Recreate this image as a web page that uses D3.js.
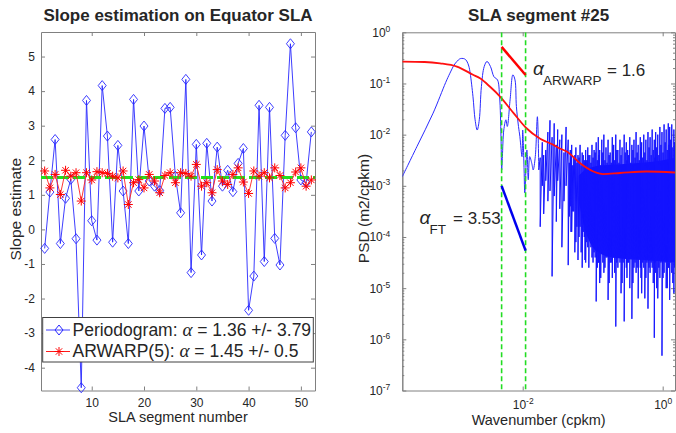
<!DOCTYPE html>
<html>
<head>
<meta charset="utf-8">
<script src="https://cdnjs.cloudflare.com/ajax/libs/d3/7.8.5/d3.min.js"></script>
<style>
body { margin:0; background:#fff; }
text { font-family: "Liberation Sans", Arial, Helvetica, sans-serif; fill:#262626; }
</style>
</head>
<body>
<svg id="viewer"></svg>
<script>
// left panel: slope estimates per SLA segment
var segments = d3.range(1, 53);
var periodogramSlope = [-0.55, 1.08, 2.6, -0.41, 0.9, 1.45, -0.27, -4.58, 3.73, 0.25,
  -0.31, 4.16, 2.7, -0.37, 2.43, 1.11, -0.41, 3.76, 1.11, 2.99,
  1.4, 1.25, 1.12, 3.5, 3.53, 1.54, 0.48, 4.34, -1.25, 2.46,
  -0.74, 2.49, 0.82, 2.38, 1.25, 1.71, 1.09, 1.91, 2.34, -2.34,
  -1.35, 3.59, -0.93, 3.53, -0.26, -1.03, 2.72, 5.37, 2.94, 1.43,
  1.35, 2.82];
var arwarpSlope = [1.69, 1.2, 1.59, 1.01, 1.71, 1.54, 1.64, 0.82, 1.64, 1.43,
  1.67, 1.64, 1.62, 1.54, 1.49, 1.69, 0.72, 1.35, 1.44, 1.2,
  1.59, 1.4, 1.06, 1.56, 1.64, 1.35, 1.64, 1.62, 1.54, 1.88,
  1.25, 1.35, 1.06, 1.73, 1.4, 1.3, 1.59, 1.78, 1.37, 1.04,
  1.69, 1.54, 1.64, 1.49, 1.78, 1.56, 1.2, 1.35, 1.66, 1.78,
  1.25, 1.43];
var trueSlope = 1.5;
var legendLabels = [
  ['Periodogram: ', '1.36 +/- 3.79'],
  ['ARWARP(5): ', '1.45 +/- 0.5']
];
var segTicks = [10, 20, 30, 40, 50];
var slopeTicks = [-4, -3, -2, -1, 0, 1, 2, 3, 4, 5];

// right panel: spectrum of segment #25, values as [log10 k, log10 psd]
var pgSmooth = [[-3.72,-2.82],[-3.51,-2.23],[-3.28,-1.58],[-3.10,-0.98],[-3.04,-0.80],
  [-2.98,-0.64],[-2.94,-0.57],[-2.90,-0.52],[-2.87,-0.51],[-2.83,-0.52],[-2.80,-0.56],
  [-2.77,-0.66],[-2.75,-0.80],[-2.71,-1.26],[-2.68,-1.71],[-2.65,-1.91],[-2.62,-1.71],
  [-2.59,-1.06],[-2.55,-0.67],[-2.51,-0.57],[-2.46,-0.67],[-2.41,-0.87],[-2.36,-0.93],
  [-2.33,-1.26],[-2.31,-2.04],[-2.30,-2.69],[-2.29,-2.43],[-2.27,-1.91],[-2.24,-1.71],
  [-2.22,-1.84],[-2.18,-1.32],[-2.14,-0.83],[-2.11,-0.93],[-2.09,-1.45],[-2.06,-1.84],
  [-2.04,-2.04],[-2.01,-2.43],[-2.00,-1.91],[-1.98,-2.69],[-1.97,-3.14],[-1.94,-2.30],
  [-1.92,-2.88],[-1.90,-2.43],[-1.87,-2.56],[-1.85,-2.69],[-1.82,-2.43],[-1.79,-1.65],
  [-1.77,-2.69]];
// noisy part: [log10 k, upper spike, lower spike]
var pgNoise = [[-1.75,-2.45,-3.80],[-1.72,-2.15,-3.00],[-1.70,-2.40,-3.55],[-1.67,-2.30,-2.90],
  [-1.64,-1.95,-3.30],[-1.61,-1.72,-3.10],[-1.58,-2.05,-4.77],[-1.55,-1.78,-3.20],
  [-1.52,-2.20,-3.70],[-1.50,-1.90,-2.90],[-1.47,-2.10,-3.45],[-1.44,-2.00,-4.20],
  [-1.41,-2.35,-3.30],[-1.38,-1.85,-3.00],[-1.35,-2.10,-4.55],[-1.32,-2.30,-3.40],
  [-1.30,-2.20,-3.90],[-1.27,-2.45,-3.50],[-1.24,-2.25,-4.10],[-1.21,-2.40,-4.45],
  [-1.18,-2.20,-3.80],[-1.15,-2.35,-4.60],[-1.12,-2.50,-4.00],[-1.10,-2.30,-4.50],
  [-1.07,-2.25,-4.20],[-1.04,-2.40,-3.90],[-1.01,-2.20,-4.40],[-0.98,-2.30,-4.30],
  [-0.95,-2.15,-5.26],[-0.92,-2.05,-4.50],[-0.90,-2.30,-4.90],[-0.87,-2.10,-4.30],
  [-0.84,-2.00,-4.70],[-0.81,-2.25,-4.40],[-0.78,-2.10,-5.23],[-0.75,-2.35,-4.50],
  [-0.72,-2.05,-4.80],[-0.70,-2.20,-4.40],[-0.67,-2.00,-5.75],[-0.64,-2.30,-4.60],
  [-0.61,-2.10,-4.50],[-0.58,-2.25,-4.90],[-0.55,-2.00,-5.65],[-0.52,-2.15,-4.60],
  [-0.50,-2.30,-4.50],[-0.47,-2.05,-5.00],[-0.44,-2.20,-5.60],[-0.41,-2.10,-4.60],
  [-0.38,-1.95,-4.70],[-0.35,-2.20,-5.20],[-0.32,-2.05,-4.60],[-0.30,-2.15,-5.10],
  [-0.27,-2.00,-4.60],[-0.24,-2.10,-4.80],[-0.21,-1.95,-5.40],[-0.18,-2.05,-4.70],
  [-0.15,-1.90,-4.60],[-0.12,-2.10,-5.97],[-0.10,-1.95,-4.70],[-0.07,-2.00,-5.20],
  [-0.04,-1.85,-4.80],[-0.01,-1.95,-6.32],[0.02,-1.80,-4.70],[0.05,-1.90,-5.00],
  [0.08,-1.78,-4.60],[0.10,-1.85,-5.23],[0.13,-1.80,-4.70],[0.16,-1.90,-5.10]];
// in-between periodogram points of the dense high-wavenumber band
var pgNoiseDense = [[-1.335,-2.55,-3.6],[-1.31,-2.45,-3.9],[-1.285,-2.60,-3.5],[-1.255,-2.40,-4.3],
  [-1.225,-2.55,-3.8],[-1.195,-2.45,-4.0],[-1.165,-2.60,-4.3],[-1.135,-2.40,-3.9],
  [-1.11,-2.55,-4.45],[-1.085,-2.50,-4.1],[-1.055,-2.40,-4.6],[-1.025,-2.55,-4.2],
  [-0.995,-2.45,-4.5],[-0.965,-2.35,-4.4],[-0.935,-2.50,-4.6],[-0.91,-2.40,-4.5],
  [-0.885,-2.60,-4.8],[-0.855,-2.35,-4.5],[-0.825,-2.50,-4.6],[-0.795,-2.55,-4.4],
  [-0.765,-2.40,-4.9],[-0.735,-2.55,-4.5],[-0.71,-2.35,-4.4],[-0.685,-2.50,-4.7],
  [-0.655,-2.30,-4.5],[-0.625,-2.55,-4.4],[-0.595,-2.40,-5.1],[-0.565,-2.60,-4.5],
  [-0.535,-2.35,-4.4],[-0.51,-2.50,-4.8],[-0.485,-2.40,-4.5],[-0.455,-2.55,-4.4],
  [-0.425,-2.30,-4.9],[-0.395,-2.45,-4.5],[-0.365,-2.35,-4.6],[-0.335,-2.50,-4.4],
  [-0.31,-2.25,-4.8],[-0.285,-2.45,-4.5],[-0.255,-2.35,-5.2],[-0.225,-2.50,-4.5],
  [-0.195,-2.25,-4.6],[-0.165,-2.40,-4.5],[-0.135,-2.30,-4.9],[-0.11,-2.45,-4.5],
  [-0.085,-2.25,-5.0],[-0.055,-2.40,-4.6],[-0.025,-2.20,-4.5],[0.005,-2.35,-4.8],
  [0.035,-2.15,-4.5],[0.065,-2.30,-5.0],[0.09,-2.20,-4.6],[0.115,-2.10,-4.5],
  [0.145,-2.25,-4.9],[0.17,-2.15,-4.6]];
// band where the periodogram points merge into solid colour: [log10 k, top, bottom]
var pgCore = [[-1.20,-2.80,-3.30],[-1.10,-2.68,-3.90],[-1.00,-2.63,-4.20],[-0.85,-2.60,-4.35],
  [-0.60,-2.58,-4.42],[-0.30,-2.55,-4.45],[0.00,-2.50,-4.48],[0.18,-2.45,-4.50]];
var arModel = [[-3.72,-0.574],[-3.40,-0.58],[-3.18,-0.606],[-2.94,-0.67],[-2.71,-0.83],
  [-2.61,-0.90],[-2.47,-1.06],[-2.32,-1.26],[-2.13,-1.58],[-1.95,-1.87],[-1.75,-2.08],
  [-1.56,-2.20],[-1.47,-2.27],[-1.37,-2.33],[-1.18,-2.56],[-0.99,-2.72],[-0.85,-2.77],
  [-0.61,-2.75],[-0.23,-2.72],[0.18,-2.74]];
var fitRange = [0.005, 0.011];
var fitArwarp = [0.52, 0.146];
var fitFT = [1e-3, 5.4e-5];
var alphaArwarp = '1.6';
var alphaFT = '3.53';

var W = 676, H = 433;
var axisGrey = '#808080';
var viewer = d3.select('#viewer').attr('width', W).attr('height', H);

function styleAxis(g){
  g.selectAll('.domain').attr('stroke', axisGrey);
  g.selectAll('.tick line').attr('stroke', axisGrey);
  g.selectAll('text').attr('font-family', '"Liberation Sans", Arial, sans-serif')
    .attr('font-size', 12).attr('fill', '#262626');
}

// ---------- left panel ----------
var L = {x0:41, x1:315, y0:32, y1:390.5};
var xs = d3.scaleLinear().domain([0.3, 52.7]).range([L.x0, L.x1]);
var ys = d3.scaleLinear().domain([-4.66, 5.71]).range([L.y1, L.y0]);

var left = viewer.append('g');
left.append('rect').attr('x', L.x0).attr('y', L.y0)
  .attr('width', L.x1-L.x0).attr('height', L.y1-L.y0).attr('fill', '#fff');

left.append('g').attr('transform', 'translate(0,'+L.y1+')')
  .call(d3.axisBottom(xs).tickValues(segTicks).tickSizeInner(-4).tickSizeOuter(0).tickPadding(7.5))
  .call(styleAxis);
left.append('g').attr('transform', 'translate(0,'+L.y0+')')
  .call(d3.axisTop(xs).tickValues(segTicks).tickSizeInner(-4).tickSizeOuter(0).tickFormat(''))
  .call(styleAxis);
left.append('g').attr('transform', 'translate('+L.x0+',0)')
  .call(d3.axisLeft(ys).tickValues(slopeTicks).tickSizeInner(-4).tickSizeOuter(0).tickPadding(6)
    .tickFormat(function(d){ return String(d); }))
  .call(styleAxis);
left.append('g').attr('transform', 'translate('+L.x1+',0)')
  .call(d3.axisRight(ys).tickValues(slopeTicks).tickSizeInner(-4).tickSizeOuter(0).tickFormat(''))
  .call(styleAxis);

var pgLine = d3.line().x(function(d,i){ return xs(segments[i]); }).y(function(d){ return ys(d); });
left.append('path').datum(periodogramSlope)
  .attr('d', pgLine).attr('fill', 'none').attr('stroke', '#2828ff').attr('stroke-width', 0.9);
var diamond = 'M0,-5L4,0L0,5L-4,0Z';
left.selectAll('.dia').data(periodogramSlope).enter().append('path')
  .attr('class', 'dia').attr('d', diamond)
  .attr('transform', function(d,i){ return 'translate('+xs(segments[i])+','+ys(d)+')'; })
  .attr('fill', 'none').attr('stroke', '#2828ff').attr('stroke-width', 0.9);

left.append('line')
  .attr('x1', L.x0).attr('x2', L.x1).attr('y1', ys(trueSlope)).attr('y2', ys(trueSlope))
  .attr('stroke', '#1fe01f').attr('stroke-width', 3).attr('stroke-dasharray', '12,4');

left.append('path').datum(arwarpSlope)
  .attr('d', pgLine).attr('fill', 'none').attr('stroke', '#ff2020').attr('stroke-width', 0.9);
var star = 'M-4.5,0H4.5M0,-4.5V4.5M-3.2,-3.2L3.2,3.2M-3.2,3.2L3.2,-3.2';
left.selectAll('.star').data(arwarpSlope).enter().append('path')
  .attr('class', 'star').attr('d', star)
  .attr('transform', function(d,i){ return 'translate('+xs(segments[i])+','+ys(d)+')'; })
  .attr('fill', 'none').attr('stroke', '#ff0000').attr('stroke-width', 1);

// legend
var lg = left.append('g');
lg.append('rect').attr('x', 42.7).attr('y', 317.5).attr('width', 270.6).attr('height', 44.5)
  .attr('fill', '#fff').attr('stroke', '#404040').attr('stroke-width', 1);
var legendColors = ['#2828ff', '#ff0000'];
var legendMarks = [diamond, star];
legendLabels.forEach(function(lab, i){
  var cy = 330 + i*21.5;
  lg.append('line').attr('x1', 46).attr('x2', 70).attr('y1', cy).attr('y2', cy)
    .attr('stroke', legendColors[i]).attr('stroke-width', 0.9);
  lg.append('path').attr('d', legendMarks[i]).attr('transform', 'translate(59,'+cy+')')
    .attr('fill', 'none').attr('stroke', legendColors[i]).attr('stroke-width', 1);
  var t = lg.append('text').attr('x', 72.5).attr('y', cy+5.5).attr('font-size', 17.5).attr('fill', '#000');
  t.append('tspan').text(lab[0]);
  t.append('tspan').attr('font-family', '"Liberation Serif", "Times New Roman", serif')
    .attr('font-style', 'italic').attr('font-size', 19).text('\u03b1');
  t.append('tspan').text(' = ' + lab[1]);
});

left.append('text').attr('x', (L.x0+L.x1)/2).attr('y', 21).attr('text-anchor', 'middle')
  .attr('font-weight', 'bold').attr('font-size', 17).attr('fill', '#000')
  .text('Slope estimation on Equator SLA');
left.append('text').attr('x', (L.x0+L.x1)/2).attr('y', 422).attr('text-anchor', 'middle')
  .attr('font-size', 14.5).text('SLA segment number');
left.append('text').attr('transform', 'translate(21,'+((L.y0+L.y1)/2-2)+') rotate(-90)')
  .attr('text-anchor', 'middle').attr('font-size', 15.5).text('Slope estimate');

// ---------- right panel ----------
var R = {x0:402.3, x1:675, y0:32.3, y1:390.5};
var xr = d3.scaleLog().domain([Math.pow(10,-3.72), Math.pow(10,0.176)]).range([R.x0, R.x1]);
var yr = d3.scaleLog().domain([1e-7, 1]).range([R.y1, R.y0]);
var decades = d3.range(-7, 1).map(function(e){ return Math.pow(10, e); });
var minor = [];
d3.range(-7, 0).forEach(function(e){
  d3.range(2, 10).forEach(function(m){ minor.push(m*Math.pow(10, e)); });
});

var right = viewer.append('g');
right.append('defs').append('clipPath').attr('id', 'clipR').append('rect')
  .attr('x', R.x0).attr('y', R.y0).attr('width', R.x1-R.x0).attr('height', R.y1-R.y0);

function powTicks(g){
  g.selectAll('.tick text').each(function(d){
    var t = d3.select(this);
    var e = Math.round(Math.log10(d));
    t.text('10');
    t.append('tspan').attr('dy', '-0.55em').attr('font-size', 8.5).text(String(e));
  });
}

right.append('g').attr('transform', 'translate(0,'+R.y1+')')
  .call(d3.axisBottom(xr).tickValues([1e-2, 1]).tickSizeInner(-4).tickSizeOuter(0).tickPadding(9.5))
  .call(styleAxis).call(powTicks);
right.append('g').attr('transform', 'translate(0,'+R.y0+')')
  .call(d3.axisTop(xr).tickValues([1e-2, 1]).tickSizeInner(-4).tickSizeOuter(0).tickFormat(''))
  .call(styleAxis);
right.append('g').attr('transform', 'translate('+R.x0+',0)')
  .call(d3.axisLeft(yr).tickValues(decades).tickSizeInner(-4).tickSizeOuter(0).tickPadding(12))
  .call(styleAxis).call(powTicks);
right.append('g').attr('transform', 'translate('+R.x0+',0)')
  .call(d3.axisLeft(yr).tickValues(minor).tickSizeInner(-2).tickSizeOuter(0).tickFormat(''))
  .call(styleAxis);
right.append('g').attr('transform', 'translate('+R.x1+',0)')
  .call(d3.axisRight(yr).tickValues(decades).tickSizeInner(-4).tickSizeOuter(0).tickFormat(''))
  .call(styleAxis);
right.append('g').attr('transform', 'translate('+R.x1+',0)')
  .call(d3.axisRight(yr).tickValues(minor).tickSizeInner(-2).tickSizeOuter(0).tickFormat(''))
  .call(styleAxis);

var plot = right.append('g').attr('clip-path', 'url(#clipR)');
function kx(d){ return xr(Math.pow(10, d[0])); }
function py(d){ return yr(Math.pow(10, d[1])); }

plot.append('path').datum(pgCore)
  .attr('d', d3.area().x(kx).y0(function(d){ return yr(Math.pow(10, d[2])); })
    .y1(function(d){ return yr(Math.pow(10, d[1])); }).curve(d3.curveMonotoneX))
  .attr('fill', '#1414ff');
plot.append('path').datum(pgSmooth)
  .attr('d', d3.line().x(kx).y(py).curve(d3.curveCatmullRom.alpha(0.5)))
  .attr('fill', 'none').attr('stroke', '#2a2aff').attr('stroke-width', 1);
var noiseAll = pgNoise.concat(pgNoiseDense).sort(function(a, b){ return a[0] - b[0]; });
var zig = [pgSmooth[pgSmooth.length-1]];
noiseAll.forEach(function(d){ zig.push([d[0], d[1]]); zig.push([d[0], d[2]]); });
plot.append('path').datum(zig)
  .attr('d', d3.line().x(kx).y(py))
  .attr('fill', 'none').attr('stroke', '#1414ff').attr('stroke-width', 1);

plot.append('path').datum(arModel)
  .attr('d', d3.line().x(kx).y(py).curve(d3.curveMonotoneX))
  .attr('fill', 'none').attr('stroke', '#ff1010').attr('stroke-width', 1.8);

plot.selectAll('.kline').data(fitRange).enter().append('line')
  .attr('x1', function(d){ return xr(d); }).attr('x2', function(d){ return xr(d); })
  .attr('y1', R.y0).attr('y2', R.y1)
  .attr('stroke', '#22dd22').attr('stroke-width', 1.6).attr('stroke-dasharray', '5,3');

plot.append('line')
  .attr('x1', xr(fitRange[0])).attr('x2', xr(fitRange[1]))
  .attr('y1', yr(fitArwarp[0])).attr('y2', yr(fitArwarp[1]))
  .attr('stroke', '#ff0000').attr('stroke-width', 2.5);
plot.append('line')
  .attr('x1', xr(fitRange[0])).attr('x2', xr(fitRange[1]))
  .attr('y1', yr(fitFT[0])).attr('y2', yr(fitFT[1]))
  .attr('stroke', '#0000ee').attr('stroke-width', 2.5);

function alphaLabel(x, y, sub, color){
  var g = right.append('g');
  g.append('text').attr('x', x).attr('y', y).attr('font-size', 19).attr('fill', color)
    .attr('font-family', '"Liberation Serif", "Times New Roman", serif').attr('font-style', 'italic')
    .text('\u03b1');
  g.append('text').attr('x', x+10).attr('y', y+10).attr('font-size', 13.5).attr('fill', color).text(sub);
  return g;
}
var ga = alphaLabel(533, 75, 'ARWARP', '#ff0000');
ga.append('text').attr('x', 607).attr('y', 76).attr('font-size', 17).attr('fill', '#ff0000').text('= ' + alphaArwarp);
var gf = alphaLabel(419.5, 224, 'FT', '#0000ee');
gf.append('text').attr('x', 453).attr('y', 224).attr('font-size', 17).attr('fill', '#0000ee').text('= ' + alphaFT);

right.append('text').attr('x', (R.x0+R.x1)/2).attr('y', 21).attr('text-anchor', 'middle')
  .attr('font-weight', 'bold').attr('font-size', 17).attr('fill', '#000').text('SLA segment #25');
right.append('text').attr('x', (R.x0+R.x1)/2).attr('y', 425).attr('text-anchor', 'middle')
  .attr('font-size', 14.5).text('Wavenumber (cpkm)');
right.append('text').attr('transform', 'translate(369,208.5) rotate(-90)')
  .attr('text-anchor', 'middle').attr('font-size', 15.5).text('PSD (m2/cpkm)');
</script>
</body>
</html>
